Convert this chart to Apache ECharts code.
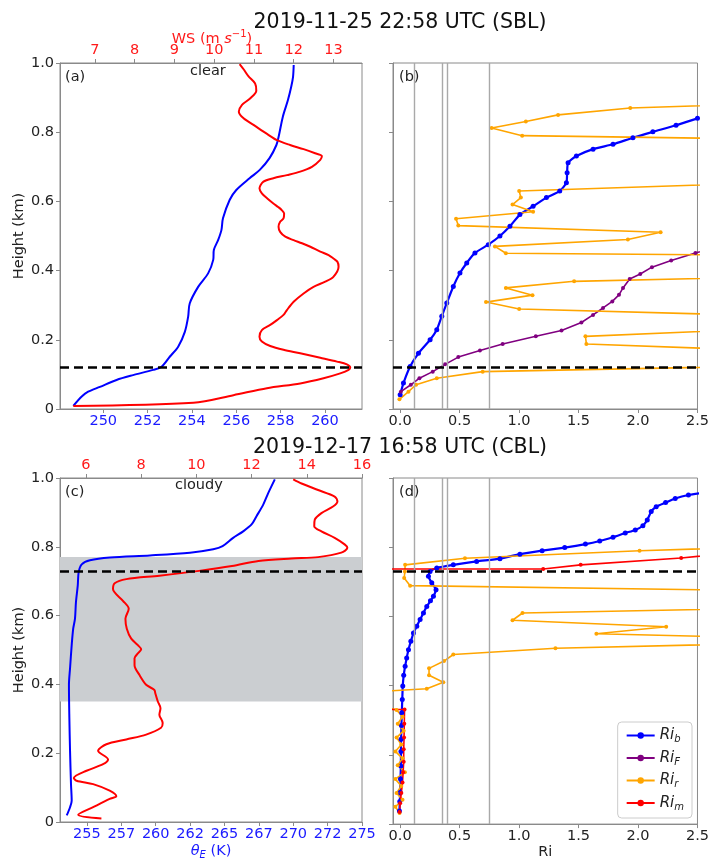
<!DOCTYPE html>
<html><head><meta charset="utf-8">
<script src="https://cdn.jsdelivr.net/npm/echarts@6/dist/echarts.min.js"></script>
<style>html,body{margin:0;padding:0;background:#fff}#c{width:712px;height:861px}</style>
</head><body><div id="c"></div>
<script>
// ---------------- DATA ----------------
// Panel (a): theta_E (K) vs height (km)
const thetaA = [[248.65,0.009],[249.03,0.036],[249.32,0.05],[249.85,0.064],[250.6,0.084],[251.35,0.098],[252.25,0.113],[252.63,0.122],[253.0,0.151],[253.38,0.18],[253.68,0.223],[253.83,0.267],[253.9,0.305],[254.28,0.353],[254.73,0.392],[254.96,0.431],[254.99,0.46],[255.18,0.488],[255.33,0.517],[255.4,0.551],[255.7,0.604],[256.0,0.633],[256.6,0.667],[257.06,0.691],[257.5,0.725],[257.81,0.763],[257.92,0.79],[258.1,0.845],[258.33,0.893],[258.48,0.932],[258.56,0.96],[258.59,0.994]];
// Panel (a): wind speed (m/s) vs height
const wsA = [[6.455,0.009],[9.478,0.018],[10.485,0.04],[11.327,0.06],[12.165,0.074],[12.752,0.089],[13.173,0.103],[13.382,0.113],[13.425,0.12],[13.34,0.129],[13.09,0.137],[12.67,0.148],[12.165,0.161],[11.745,0.171],[11.41,0.182],[11.2,0.195],[11.14,0.209],[11.2,0.228],[11.41,0.243],[11.58,0.257],[11.745,0.272],[11.83,0.286],[12.0,0.31],[12.25,0.334],[12.5,0.353],[12.795,0.368],[13.0,0.382],[13.13,0.411],[13.1,0.426],[13.0,0.435],[12.88,0.445],[12.67,0.455],[12.42,0.469],[12.21,0.479],[12.0,0.488],[11.79,0.498],[11.66,0.512],[11.62,0.527],[11.66,0.541],[11.745,0.551],[11.76,0.565],[11.7,0.575],[11.62,0.583],[11.49,0.594],[11.33,0.609],[11.2,0.623],[11.14,0.638],[11.24,0.657],[11.49,0.667],[11.83,0.676],[12.165,0.686],[12.46,0.7],[12.67,0.72],[12.71,0.731],[12.54,0.739],[12.25,0.751],[11.91,0.763],[11.58,0.777],[11.33,0.795],[10.99,0.821],[10.74,0.84],[10.62,0.859],[10.7,0.879],[10.91,0.898],[11.06,0.92],[11.03,0.941],[10.86,0.962],[10.74,0.982],[10.64,0.997]];
// Panel (b): Richardson numbers vs height
const riB_b = [[0.0,0.041],[0.028,0.075],[0.084,0.123],[0.154,0.161],[0.252,0.2],[0.308,0.229],[0.35,0.268],[0.392,0.306],[0.447,0.354],[0.503,0.393],[0.56,0.422],[0.629,0.451],[0.741,0.475],[0.839,0.5],[0.923,0.528],[1.007,0.562],[1.118,0.586],[1.23,0.611],[1.342,0.63],[1.398,0.654],[1.404,0.683],[1.412,0.712],[1.482,0.731],[1.622,0.751],[1.79,0.765],[1.957,0.784],[2.125,0.801],[2.32,0.82],[2.5,0.84],[2.9,0.88]];
const riF_b = [[0.006,0.05],[0.09,0.07],[0.162,0.089],[0.274,0.108],[0.378,0.129],[0.489,0.15],[0.671,0.169],[0.862,0.188],[1.141,0.21],[1.357,0.227],[1.524,0.25],[1.622,0.272],[1.706,0.292],[1.784,0.311],[1.84,0.33],[1.874,0.35],[1.93,0.376],[2.019,0.39],[2.117,0.41],[2.279,0.429],[2.483,0.451],[2.8,0.48]];
const riR_b = [[-0.006,0.028],[0.07,0.05],[0.134,0.07],[0.308,0.089],[0.694,0.108],[4,0.13],[4,0.157],[1.566,0.188],[1.558,0.21],[4,0.246],[4,0.261],[1.001,0.289],[0.722,0.309],[1.113,0.329],[0.889,0.35],[1.463,0.369],[4,0.389],[4,0.442],[0.889,0.45],[0.797,0.47],[1.915,0.49],[2.19,0.511],[0.489,0.53],[0.47,0.55],[1.118,0.57],[0.945,0.591],[1.015,0.611],[1.001,0.63],[4,0.664],[4,0.776],[1.026,0.79],[0.769,0.812],[1.057,0.831],[1.328,0.85],[1.935,0.87],[4,0.892]];
// Panel (c)
const thetaC = [[253.53,0.019],[253.77,0.043],[253.89,0.062],[253.84,0.11],[253.77,0.207],[253.72,0.303],[253.69,0.399],[253.77,0.447],[253.89,0.514],[254.0,0.562],[254.13,0.591],[254.2,0.639],[254.33,0.687],[254.4,0.727],[254.62,0.749],[255.22,0.761],[256.67,0.769],[259.58,0.775],[262.49,0.783],[264.18,0.793],[264.86,0.802],[265.63,0.826],[266.36,0.845],[266.97,0.865],[267.33,0.889],[267.81,0.922],[268.18,0.956],[268.66,0.996]];
const wsC = [[6.56,0.01],[5.72,0.021],[6.26,0.043],[6.86,0.067],[7.1,0.075],[6.86,0.091],[6.26,0.11],[5.66,0.12],[5.56,0.128],[6.02,0.149],[6.62,0.168],[6.8,0.182],[6.44,0.207],[6.74,0.226],[7.46,0.24],[8.18,0.254],[8.72,0.274],[8.78,0.288],[8.66,0.312],[8.7,0.331],[8.6,0.351],[8.51,0.375],[8.48,0.384],[8.18,0.399],[7.94,0.427],[7.76,0.456],[7.76,0.476],[7.88,0.49],[8.0,0.502],[7.88,0.514],[7.64,0.533],[7.48,0.562],[7.43,0.591],[7.55,0.62],[7.34,0.643],[6.98,0.677],[7.04,0.694],[7.46,0.706],[8.66,0.716],[10.1,0.73],[11.29,0.744],[12.25,0.759],[13.45,0.766],[14.41,0.77],[15.25,0.783],[15.47,0.797],[15.37,0.807],[15.01,0.826],[14.53,0.845],[14.27,0.86],[14.29,0.879],[14.53,0.898],[14.95,0.917],[15.11,0.932],[15.01,0.946],[14.41,0.965],[13.81,0.984],[13.51,0.996]];
// Panel (d)
const riB_d = [[-0.006,0.038],[-0.003,0.065],[0.0,0.091],[0.003,0.13],[0.006,0.168],[0.007,0.21],[0.008,0.245],[0.011,0.285],[0.014,0.322],[0.018,0.36],[0.022,0.399],[0.03,0.43],[0.042,0.456],[0.055,0.48],[0.07,0.504],[0.09,0.528],[0.112,0.552],[0.14,0.572],[0.168,0.591],[0.196,0.61],[0.224,0.629],[0.255,0.645],[0.28,0.658],[0.302,0.677],[0.266,0.697],[0.238,0.716],[0.252,0.73],[0.308,0.74],[0.447,0.749],[0.643,0.759],[0.839,0.767],[1.007,0.78],[1.194,0.79],[1.384,0.799],[1.558,0.809],[1.678,0.818],[1.79,0.829],[1.893,0.841],[1.977,0.85],[2.041,0.862],[2.078,0.879],[2.111,0.903],[2.153,0.917],[2.232,0.929],[2.313,0.941],[2.424,0.951],[2.6,0.96]];
const riF_d = [];
const riR_d = [[-0.005,0.032],[-0.04,0.05],[0.02,0.07],[-0.03,0.09],[0.01,0.11],[-0.04,0.13],[0.04,0.15],[-0.02,0.17],[0.02,0.19],[-0.04,0.21],[0.01,0.23],[-0.03,0.25],[0.03,0.27],[-0.02,0.29],[0.02,0.31],[-0.03,0.33],[-0.6,0.375],[0.224,0.391],[0.363,0.41],[0.243,0.43],[0.243,0.45],[0.369,0.471],[0.447,0.49],[1.306,0.508],[4,0.53],[1.65,0.55],[2.237,0.57],[0.945,0.589],[1.029,0.61],[4,0.63],[4,0.67],[0.084,0.689],[0.034,0.711],[0.04,0.73],[0.042,0.749],[0.545,0.768],[2.013,0.79],[4,0.81]];
const riM_d = [[-0.005,0.035],[0.0,0.06],[0.01,0.09],[0.02,0.12],[0.025,0.15],[0.03,0.18],[0.03,0.216],[0.033,0.25],[0.035,0.29],[0.037,0.331],[-2,0.331],[-2,0.737],[1.203,0.737],[1.518,0.749],[2.363,0.769],[3.0,0.79]];
// Reference lines
const pblA = 0.12, pblC = 0.73;
const riCritLines = [0.12, 0.35, 0.40, 0.75];
const cloudLayerC = [0.35, 0.77];
// Ticks
const thetaTicksA = [250,252,254,256,258,260];
const thetaLabelsA = ['250','252','254','256','258','260'];
const wsTicksA = [7,8,9,10,11,12,13];
const wsLabelsA = ['7','8','9','10','11','12','13'];
const thetaTicksC = [255,257.5,260,262.5,265,267.5,270,272.5,275];
const thetaLabelsC = ['255','257','260','262','265','267','270','272','275'];
const wsTicksC = [6,8,10,12,14,16];
const wsLabelsC = ['6','8','10','12','14','16'];
const riTicks = [0,0.5,1,1.5,2,2.5];
const riLabels = ['0.0','0.5','1.0','1.5','2.0','2.5'];
const heightTicks = [0,0.2,0.4,0.6,0.8,1.0];
const heightLabels = ['0','0.2','0.4','0.6','0.8','1.0'];
const legendNames = ['Ri_b','Ri_F','Ri_r','Ri_m'];
const legendSubs = ['b','F','r','m'];

// ---------------- CHART ----------------
const FONT = 'DejaVu Sans';
const AX = '#8a8a8a';
const FS = 14.5;
const chart = echarts.init(document.getElementById('c'), null, {renderer:'canvas'});

function lab(ticks, labels){ return v => { const i = ticks.findIndex(t => Math.abs(t - v) < 1e-9); return i >= 0 ? labels[i] : ''; }; }

function xAx(gi, pos, min, max, ticks, labels, color, extra){
  return Object.assign({
    type:'value', gridIndex:gi, position:pos, min:min, max:max,
    axisLine:{show:true, onZero:false, lineStyle:{color:AX, width:1}},
    axisTick:{show:true, length:4, customValues:ticks, lineStyle:{color:AX}},
    splitLine:{show:false},
    axisLabel:{show:true, customValues:ticks, formatter:lab(ticks,labels), color:color, fontSize:FS, fontFamily:FONT, margin:5, hideOverlap:false}
  }, extra||{});
}
function yAx(gi, show){
  return {
    type:'value', gridIndex:gi, min:0, max:1,
    axisLine:{show:true, onZero:false, lineStyle:{color:AX, width:1}},
    axisTick:{show:true, length:4, customValues:heightTicks, lineStyle:{color:AX}},
    splitLine:{show:false},
    axisLabel:{show:show, customValues:heightTicks, formatter:lab(heightTicks,heightLabels), color:'#222', fontSize:FS, fontFamily:FONT, margin:6},
    name: show ? 'Height (km)' : '', nameLocation:'middle', nameGap:29,
    nameTextStyle:{fontSize:FS, fontFamily:FONT, color:'#222'}
  };
}
const gridStyle = {show:true, borderColor:AX, borderWidth:1, backgroundColor:'transparent', containLabel:false};
const dashLine = (y) => ({silent:true, symbol:'none', label:{show:false}, animation:false,
  lineStyle:{color:'#000', width:2.5, type:[9,5]}, data:[{yAxis:y}]});
const riMarkLines = (y) => ({silent:true, symbol:'none', label:{show:false}, animation:false,
  data: riCritLines.map(v => ({xAxis:v, lineStyle:{color:'#a9a9a9', width:1.4, type:'solid'}}))
        .concat([{yAxis:y, lineStyle:{color:'#000', width:2.5, type:[9,5]}}])});

function riSeries(name, data, color, xi, yi, extra){
  return Object.assign({
    type:'line', name:name, xAxisIndex:xi, yAxisIndex:yi, data:data,
    symbol:'circle', symbolSize:4, showSymbol:true, clip:true,
    lineStyle:{color:color, width:1.6}, itemStyle:{color:color},
    animation:false, z:3
  }, extra||{});
}
function profile(name, data, color, xi, yi, extra){
  return Object.assign({type:'line', name:name, xAxisIndex:xi, yAxisIndex:yi, data:data,
    showSymbol:false, symbol:'none', smooth:0.3, lineStyle:{color:color, width:2}, z:3, animation:false}, extra||{});
}

const option = {
  animation:false,
  backgroundColor:'#fff',
  textStyle:{fontFamily:FONT},
  grid:[
    Object.assign({left:60, top:63, width:302, height:346}, gridStyle),
    Object.assign({left:393, top:63, width:305, height:346}, gridStyle),
    Object.assign({left:60, top:478, width:302, height:347}, gridStyle),
    Object.assign({left:393, top:478, width:305, height:347}, gridStyle)
  ],
  xAxis:[
    xAx(0,'bottom',248.05,261.67,thetaTicksA,thetaLabelsA,'#1a1aff'),
    xAx(0,'top',6.12,13.72,wsTicksA,wsLabelsA,'#ff1a1a'),
    xAx(1,'bottom',-0.06,2.5,riTicks,riLabels,'#222'),
    xAx(2,'bottom',253.04,275,thetaTicksC,thetaLabelsC,'#1a1aff',{
      name:'{it|θ}{sub|E} (K)', nameLocation:'middle', nameGap:20,
      nameTextStyle:{color:'#1a1aff', fontSize:FS, fontFamily:FONT,
        rich:{it:{fontStyle:'italic', color:'#1a1aff', fontSize:FS, fontFamily:FONT}, sub:{fontStyle:'italic', color:'#1a1aff', fontSize:10, fontFamily:FONT, padding:[8,0,0,0]}}}
    }),
    xAx(2,'top',5.06,16,wsTicksC,wsLabelsC,'#ff1a1a'),
    xAx(3,'bottom',-0.06,2.5,riTicks,riLabels,'#222',{
      name:'Ri', nameLocation:'middle', nameGap:20, nameTextStyle:{color:'#222', fontSize:FS, fontFamily:FONT}
    })
  ],
  yAxis:[ yAx(0,true), yAx(1,false), yAx(2,true), yAx(3,false) ],
  legend:{
    data:legendNames, orient:'vertical', right:20, bottom:43,
    itemWidth:28, itemHeight:8, itemGap:6, padding:[6,8,6,8],
    backgroundColor:'#fff', borderColor:'#cccccc', borderWidth:1, borderRadius:4,
    formatter: n => '{r|Ri}{s|' + legendSubs[legendNames.indexOf(n)] + '}',
    textStyle:{color:'#222', fontFamily:FONT,
      rich:{r:{fontStyle:'italic', fontSize:15, fontFamily:FONT, color:'#222'}, s:{fontStyle:'italic', fontSize:10, fontFamily:FONT, color:'#222', padding:[8,0,0,0]}}}
  },
  series:[
    profile('thetaA', thetaA, '#0000ff', 0, 0, {markLine:dashLine(pblA)}),
    profile('wsA', wsA, '#ff0000', 1, 0),
    riSeries('Ri_b', riB_b, '#0000ff', 2, 1, {markLine:riMarkLines(pblA), symbolSize:5, smooth:0.2, lineStyle:{color:'#0000ff', width:2.2}}),
    riSeries('Ri_F', riF_b, '#800080', 2, 1),
    riSeries('Ri_r', riR_b, '#ffa500', 2, 1),
    profile('thetaC', thetaC, '#0000ff', 3, 2, {markLine:dashLine(pblC),
      markArea:{silent:true, itemStyle:{color:'#cbced1'}, data:[[{yAxis:cloudLayerC[0]},{yAxis:cloudLayerC[1]}]]}}),
    profile('wsC', wsC, '#ff0000', 4, 2),
    riSeries('Ri_b', riB_d, '#0000ff', 5, 3, {markLine:riMarkLines(pblC), symbolSize:5, smooth:0.2, lineStyle:{color:'#0000ff', width:2.2}}),
    riSeries('Ri_F', riF_d, '#800080', 5, 3),
    riSeries('Ri_r', riR_d, '#ffa500', 5, 3),
    riSeries('Ri_m', riM_d, '#ff0000', 5, 3)
  ],
  graphic:[
    {type:'text', x:400, y:23, style:{text:'2019-11-25 22:58 UTC (SBL)', font:'20.5px "DejaVu Sans"', fill:'#111', textAlign:'center', textVerticalAlign:'middle'}},
    {type:'text', x:400, y:448, style:{text:'2019-12-17 16:58 UTC (CBL)', font:'20.5px "DejaVu Sans"', fill:'#111', textAlign:'center', textVerticalAlign:'middle'}},
    {type:'text', x:212, y:39, style:{text:'WS (m {it|s}{sup|−1})', textAlign:'center', textVerticalAlign:'middle',
      fill:'#ff1a1a', font:'14.5px "DejaVu Sans"',
      rich:{it:{fontStyle:'italic', fill:'#ff1a1a', fontSize:FS, fontFamily:FONT}, sup:{fill:'#ff1a1a', fontSize:10, fontFamily:FONT, padding:[0,0,9,0]}}}},
    {type:'text', x:65, y:70, style:{text:'(a)', font:'14.5px "DejaVu Sans"', fill:'#222'}},
    {type:'text', x:190, y:64, style:{text:'clear', font:'14.5px "DejaVu Sans"', fill:'#222'}},
    {type:'text', x:399, y:70, style:{text:'(b)', font:'14.5px "DejaVu Sans"', fill:'#222'}},
    {type:'text', x:65, y:485, style:{text:'(c)', font:'14.5px "DejaVu Sans"', fill:'#222'}},
    {type:'text', x:175, y:478, style:{text:'cloudy', font:'14.5px "DejaVu Sans"', fill:'#222'}},
    {type:'text', x:399, y:485, style:{text:'(d)', font:'14.5px "DejaVu Sans"', fill:'#222'}}
  ]
};
chart.setOption(option);
</script></body></html>
